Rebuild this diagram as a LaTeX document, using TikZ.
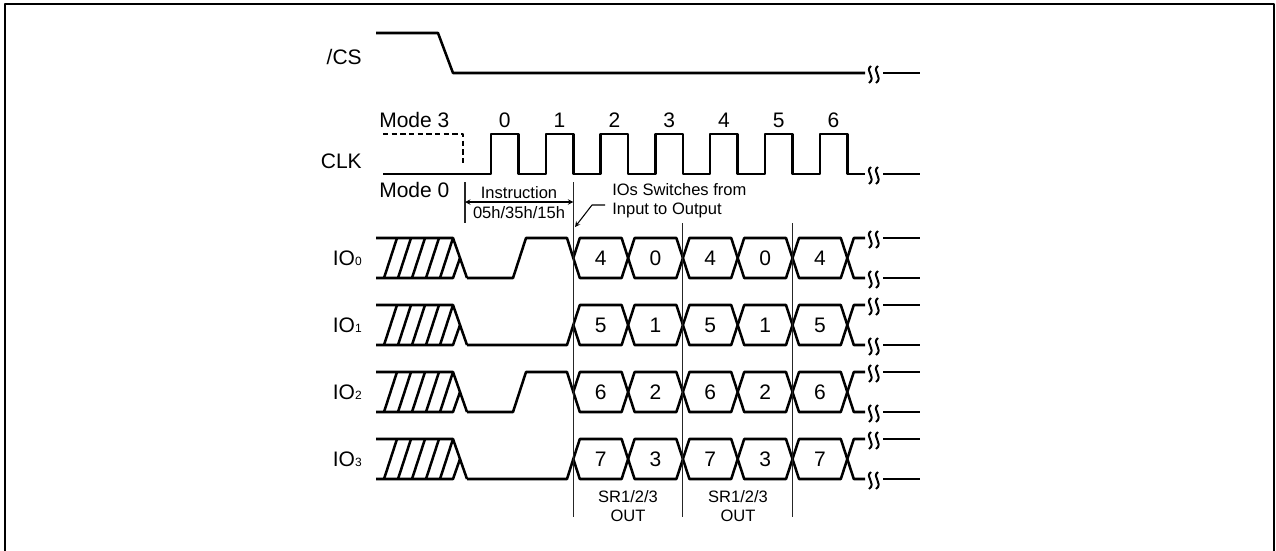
\documentclass[tikz,border=0pt]{standalone}
\usepackage{fontspec}
\setmainfont{Liberation Sans}
\usepackage{tikz}

\begin{document}
\begin{tikzpicture}[x=0.75pt, y=-0.75pt, >=stealth, line join=round,
    wave/.style={line width=1.9pt},
    thinline/.style={line width=0.8pt, black!85},
    squig/.style={line width=1.5pt},
    lbl/.style={font=\fontsize{15.75}{18}\selectfont, inner sep=0pt},
    note/.style={font=\fontsize{12.4}{14.4}\selectfont, inner sep=0pt}]

        \useasboundingbox (0,0) rectangle (1276,550);
        \draw[line width=2.2pt] (5,552) -- (5,4) -- (1274,4) -- (1274,552);

        \node[lbl, anchor=east] at (362,57) (cs) {/CS};
        \node[lbl, anchor=east] at (362,161) (clk) {CLK};
        \node[lbl, anchor=west] at (379,120) (mode3) {Mode 3};
        \node[lbl, anchor=west] at (379,190) (mode0) {Mode 0};
        \foreach \k in {0,...,6}
            \node[lbl] at ({504.75+54.8*\k},120) (num\k) {\k};
        \foreach \i/\t in {0/238,1/305,2/372,3/439}
            \node[lbl, anchor=east] at (362,\t+20) (io\i) {IO{\fontsize{9}{9}\selectfont\i}};

        \draw[wave] (376,33) -- (438,33) -- (453,73) -- (865,73);
        \draw[wave] (883,73) -- (920,73);

        \draw[wave] (383,174) \foreach \k in {0,...,6} { -- ({491+54.8*\k},174) -- ++(0,-40) -- ++(27.5,0) -- ++(0,40) } -- (865,174);
        \draw[wave] (883,174) -- (920,174);
        \draw[wave, dash pattern=on 4pt off 2.5pt, line cap=butt] (383,134) -- (463,134) -- (463,163);

        \foreach \t in {238,305,372,439} {
            \draw[wave] (376,\t) -- (453,\t) -- (467,\t+40);
            \draw[wave] (376,\t+40) -- (453,\t+40) -- (460,\t+20);
            \foreach \h in {0,...,4}
                \draw[wave] ({384+14*\h},\t+40) -- ({397+14*\h},\t);
            \draw[wave] (847.3,\t+20) -- (853.8,\t) -- (865,\t) (847.3,\t+20) -- (853.8,\t+40) -- (865,\t+40);
            \draw[wave] (883,\t) -- (920,\t) (883,\t+40) -- (920,\t+40);
        }
        \foreach \t in {238,372}
            \draw[wave] (467,\t+40) -- (513,\t+40) -- (526,\t) -- (567,\t) -- (573.3,\t+20);
        \foreach \t in {305,439}
            \draw[wave] (467,\t+40) -- (567,\t+40) -- (573.3,\t+20);

        \foreach \t/\a/\b in {238/4/0,305/5/1,372/6/2,439/7/3}
            \foreach \j/\v in {0/\a,1/\b,2/\a,3/\b,4/\a} {
                \pgfmathsetmacro\c{573.3+54.8*\j}
                \draw[wave] (\c,\t+20) -- (\c+6.5,\t) -- (\c+48.3,\t) -- (\c+54.8,\t+20) -- (\c+48.3,\t+40) -- (\c+6.5,\t+40) -- cycle;
                \node[lbl] at (\c+27.4,\t+20) (bit\t-\j) {\v};
            }

        \foreach \y in {73,174,238,278,305,345,372,412,439,479}
            \foreach \dx in {0,7}
                \draw[squig] ({871+\dx},\y-7) .. controls ({864+\dx},\y-2) and ({877+\dx},\y+4) .. ({869+\dx},\y+10);

        \draw[thinline] (465,182) -- (465,223);
        \draw[thinline] (573.3,182) -- (573.3,517);
        \draw[thinline] (682.9,223) -- (682.9,517);
        \draw[thinline] (792.5,223) -- (792.5,517);

        \coordinate (instl) at (465,202);
        \coordinate (instr) at (573.3,202);
        \draw[<->, line width=0.8pt] (instl) -- (instr);
        \node[note, align=center] at (519,202.5) (instr-txt) {Instruction\\05h/35h/15h};

        \node[note, align=left, anchor=west] at (612,201) (iosw) {IOs Switches from\\Input to Output};
        \coordinate (swstart) at (605,205);
        \coordinate (swtip) at (575,227);
        \draw[->, line width=0.8pt] (swstart) -- ++(-13,0) -- (swtip);

        \node[note, align=center] at (628,506) (sr1) {SR1/2/3\\OUT};
        \node[note, align=center] at (738,506) (sr2) {SR1/2/3\\OUT};

    \end{tikzpicture}
\end{document}
